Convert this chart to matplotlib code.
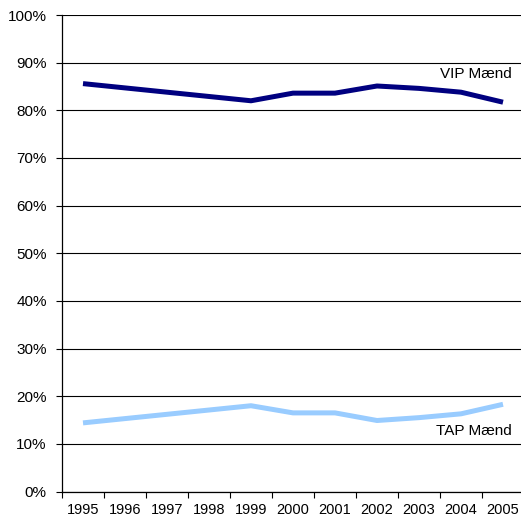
import matplotlib

matplotlib.use("Agg")
import matplotlib.pyplot as plt
import numpy as np

# data
years = ["1995", "1996", "1997", "1998", "1999", "2000",
         "2001", "2002", "2003", "2004", "2005"]
vip_maend = [85.6, 84.7, 83.8, 82.9, 82.0, 83.6, 83.6, 85.1, 84.6, 83.8, 81.7]
tap_maend = [14.4, 15.3, 16.2, 17.1, 18.0, 16.5, 16.5, 14.9, 15.5, 16.3, 18.3]

plt.rcParams["font.family"] = ["Liberation Sans", "DejaVu Sans"]

fig = plt.figure(figsize=(5.21, 5.18), dpi=100)
ax = fig.add_axes([62 / 521, (518 - 491.5) / 518, 462 / 521, 476.5 / 518])

x = np.arange(len(years))
ax.plot(x, vip_maend, color="#000080", lw=3.6, solid_capstyle="butt", zorder=3)
ax.plot(x, tap_maend, color="#99CCFF", lw=3.6, solid_capstyle="butt", zorder=3)

ax.text(10.21, 87.6, "VIP Mænd", ha="right", va="center", fontsize=11)
ax.text(10.21, 12.7, "TAP Mænd", ha="right", va="center", fontsize=11)

ax.set_xlim(-0.5, len(years) - 0.5)
ax.set_ylim(0, 100)

# y axis
ax.set_yticks(np.arange(0, 101, 10))
ax.set_yticklabels([f"{v}%" for v in range(0, 101, 10)])
ax.yaxis.grid(True, color="black", lw=0.8)
ax.set_axisbelow(True)
ax.tick_params(axis="y", length=4, width=0.8, pad=7, labelsize=11)

# x axis: tick marks between categories, labels centered
ax.set_xticks(np.arange(-0.5, len(years), 1.0))
ax.set_xticklabels([])
ax.set_xticks(x, minor=True)
ax.set_xticklabels(years, minor=True)
ax.tick_params(axis="x", which="major", length=4, width=0.8)
ax.tick_params(axis="x", which="minor", length=0, pad=8.5, labelsize=10.5)

for side in ["top", "right"]:
    ax.spines[side].set_visible(False)
ax.spines["left"].set_linewidth(0.9)
ax.spines["bottom"].set_linewidth(0.9)

fig.savefig("out.png", dpi=100)
